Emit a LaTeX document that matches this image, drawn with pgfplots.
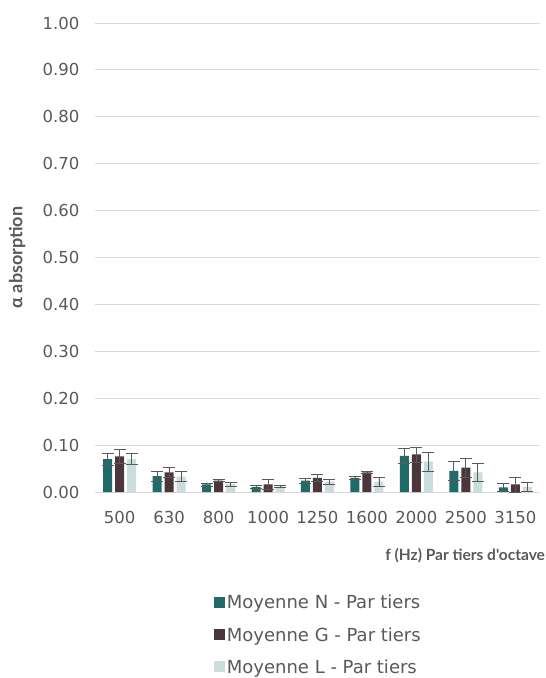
\documentclass[border=0pt]{standalone}
\usepackage{pgfplots}
\pgfplotsset{compat=1.18}
\usepackage{fontspec}
\setmainfont{DejaVu Sans}
\newfontfamily\labfont{Lato}
\definecolor{cN}{HTML}{1E6B69}
\definecolor{cG}{HTML}{4B363B}
\definecolor{cL}{HTML}{C9DDDC}
\definecolor{txt}{HTML}{595959}
\definecolor{grd}{HTML}{D9D9D9}
\pgfplotstableread{
x v e
0 0.070 0.013
1 0.034 0.011
2 0.016 0.003
3 0.011 0.003
4 0.024 0.005
5 0.030 0.004
6 0.077 0.016
7 0.045 0.020
8 0.010 0.009
}\dataN
\pgfplotstableread{
x v e
0 0.076 0.014
1 0.042 0.010
2 0.024 0.002
3 0.016 0.010
4 0.030 0.007
5 0.042 0.002
6 0.080 0.016
7 0.052 0.020
8 0.016 0.016
}\dataG
\pgfplotstableread{
x v e
0 0.070 0.012
1 0.033 0.011
2 0.017 0.004
3 0.012 0.002
4 0.022 0.005
5 0.022 0.009
6 0.065 0.020
7 0.042 0.019
8 0.011 0.010
}\dataL
\pgfplotsset{myerr/.style={error bars/.cd, y dir=both, y explicit,
  error bar style={color=txt, line width=0.7pt},
  error mark options={color=txt, line width=0.7pt, mark size=6pt, rotate=90}}}
\begin{document}
\begin{tikzpicture}
\useasboundingbox (0,0) rectangle (546pt,678pt);
\begin{axis}[
  at={(95pt,186pt)}, anchor=south west,
  scale only axis, width=445pt, height=469pt,
  ybar=3pt, bar width=9pt,
  xmin=-0.5, xmax=8.5, ymin=0, ymax=1,
  xtick={0,...,8},
  xticklabels={500,630,800,1000,1250,1600,2000,2500,3150},
  ytick={0,0.1,...,1.0},
  yticklabel style={/pgf/number format/.cd, fixed, fixed zerofill, precision=2, assume math mode=true},
  ymajorgrids, grid style={grd, line width=0.8pt},
  axis line style={draw=none},
  major tick length=0pt,
  tick style={draw=none},
  every tick label/.append style={font=\fontsize{16.5}{19}\selectfont, text=txt},
  yticklabel shift=12pt,
  xticklabel shift=16pt,
  ylabel={\labfont\bfseries α absorption},
  ylabel style={at={(axis description cs:-0.175,0.5)}, anchor=center, font=\fontsize{18}{20}\selectfont, text=txt},
  xlabel={\labfont\bfseries f (Hz) Par tiers d'octave},
  xlabel style={at={(axis description cs:1.019,-0.135)}, anchor=east, font=\fontsize{15.5}{18}\selectfont, text=txt},
  legend style={at={(axis description cs:0.26,-0.211)}, anchor=north west, draw=none, fill=none,
    font=\fontsize{18}{21}\selectfont, text=txt, row sep=13pt,
    /tikz/every even column/.append style={column sep=1pt}},
  legend cell align=left,
  legend image code/.code={\fill[#1] (0pt,-5pt) rectangle (11pt,6pt);},
]
\addplot[fill=cN, draw=none, myerr] table[x=x, y=v, y error=e] {\dataN};
\addlegendentry{Moyenne N - Par tiers}
\addplot[fill=cG, draw=none, myerr] table[x=x, y=v, y error=e] {\dataG};
\addlegendentry{Moyenne G - Par tiers}
\addplot[fill=cL, draw=none, myerr] table[x=x, y=v, y error=e] {\dataL};
\addlegendentry{Moyenne L - Par tiers}
\end{axis}
\end{tikzpicture}
\end{document}
